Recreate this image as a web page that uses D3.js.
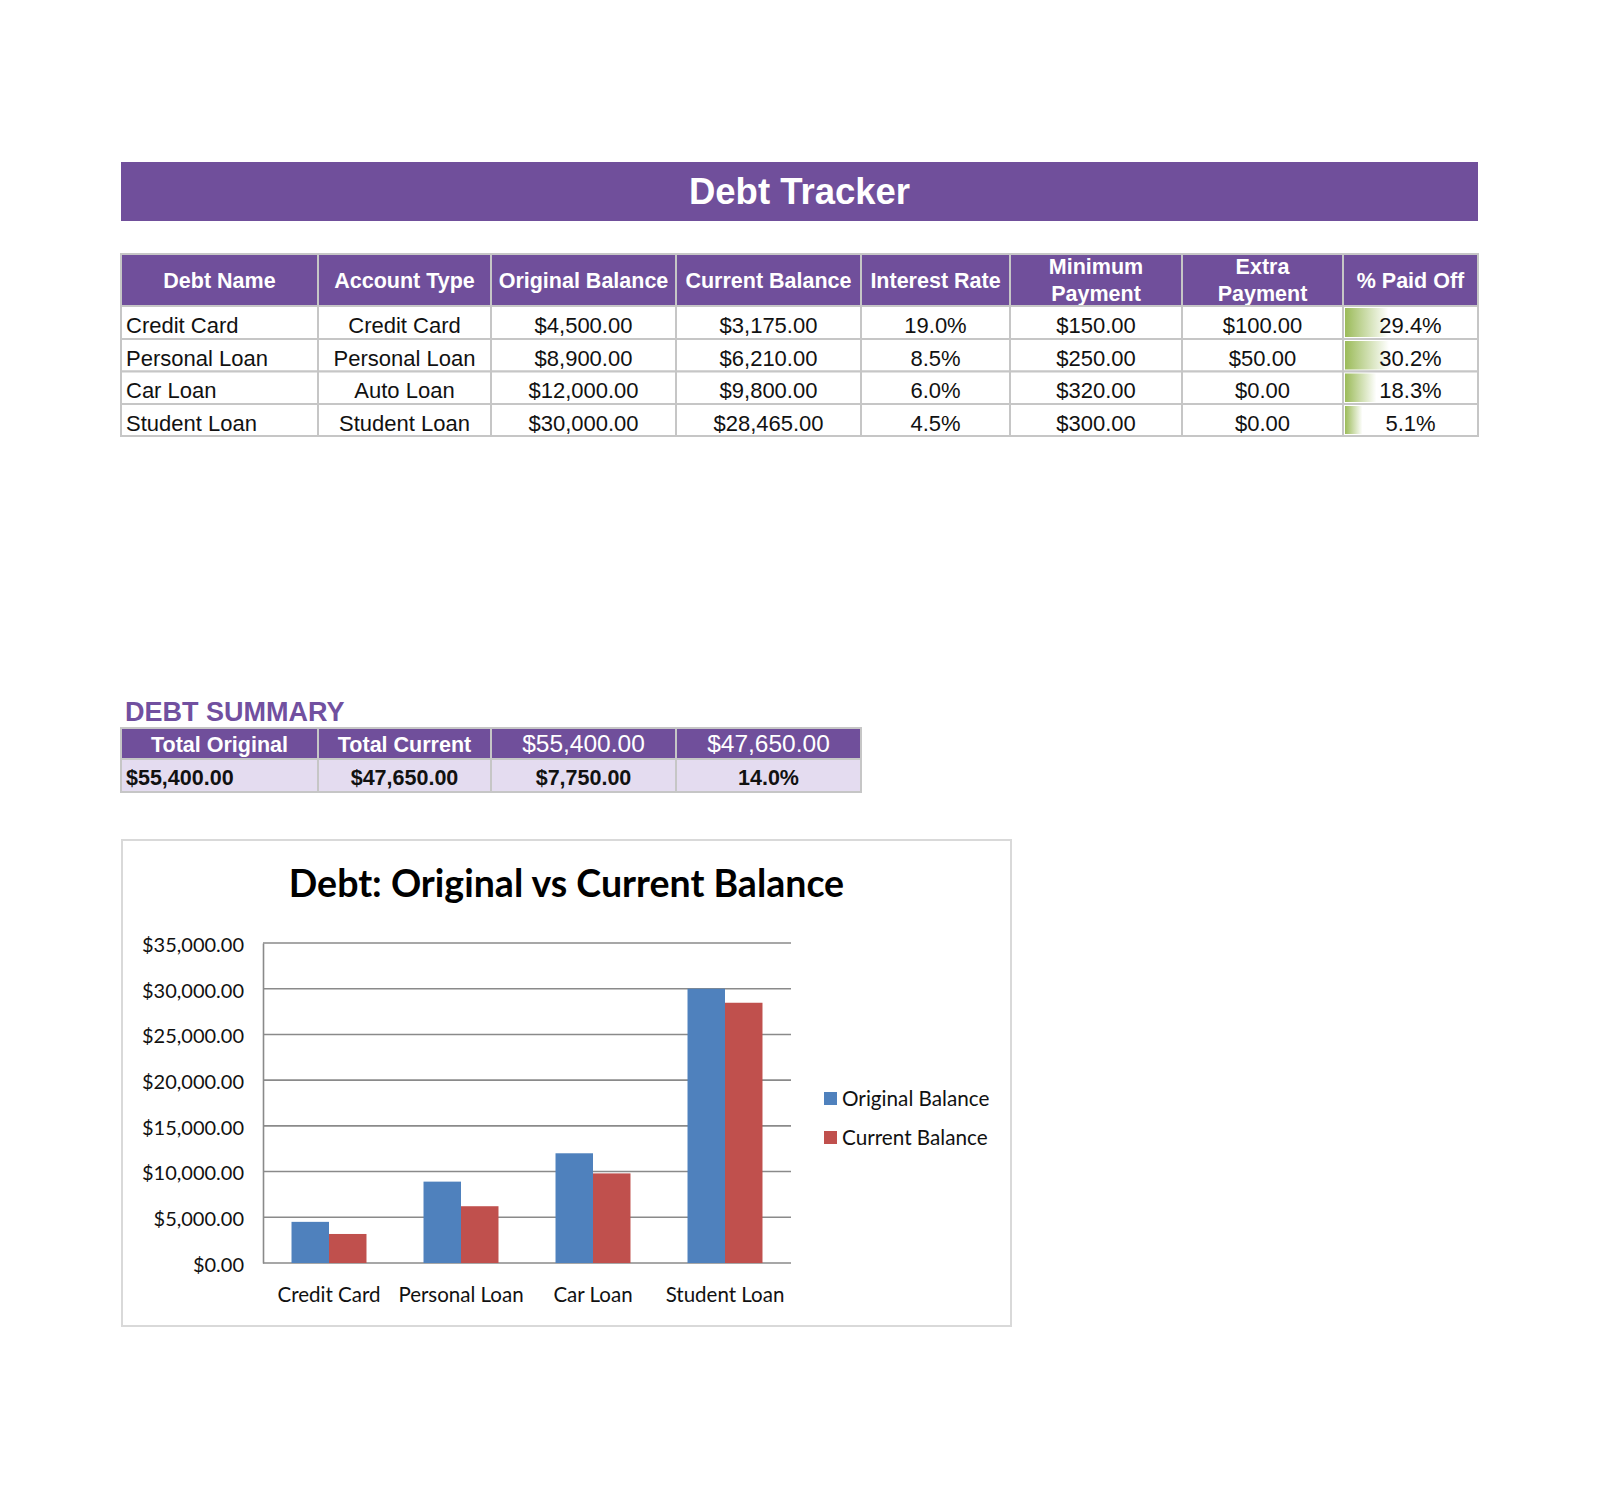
<!DOCTYPE html>
<html>
<head>
<meta charset="utf-8">
<script src="https://cdn.jsdelivr.net/npm/d3@7"></script>
<style>
  html, body { margin: 0; padding: 0; background: #ffffff; }
  svg { display: block; }
</style>
</head>
<body>
<svg id="page" width="1600" height="1502"></svg>
<script>
// ---------------- DATA ----------------
const debtNames = ["Credit Card", "Personal Loan", "Car Loan", "Student Loan"];
const accountTypes = ["Credit Card", "Personal Loan", "Auto Loan", "Student Loan"];
const originalBalance = [4500, 8900, 12000, 30000];
const currentBalance = [3175, 6210, 9800, 28465];
const interestRate = [0.19, 0.085, 0.06, 0.045];
const minimumPayment = [150, 250, 320, 300];
const extraPayment = [100, 50, 0, 0];
const paidOff = [0.294, 0.302, 0.183, 0.051];
const tableHeaders = ["Debt Name", "Account Type", "Original Balance", "Current Balance",
  "Interest Rate", "Minimum\nPayment", "Extra\nPayment", "% Paid Off"];
const summaryHeaders = ["Total Original", "Total Current", "$55,400.00", "$47,650.00"];
const summaryValues = ["$55,400.00", "$47,650.00", "$7,750.00", "14.0%"];
const seriesNames = ["Original Balance", "Current Balance"];
const yTickValues = [0, 5000, 10000, 15000, 20000, 25000, 30000, 35000];
const pageTitle = "Debt Tracker";
const chartTitle = "Debt: Original vs Current Balance";
const summaryTitle = "DEBT SUMMARY";

// ---------------- STYLE / LAYOUT ----------------
const PURPLE = "#704f9b";
const LAVENDER = "#e4dcf0";
const GRID = "#c6c6c6";
const BLUE = "#4f81bd";
const RED = "#c0504d";
const ARIAL = "'Liberation Sans', Arial, sans-serif";
const CAL = "Lato, 'Open Sans', sans-serif";

const colEdges = [121, 318, 491, 676, 861, 1010, 1182, 1343, 1478];
const money = d => "$" + d3.format(",.2f")(d);
const pct = d3.format(".1%");

const svg = d3.select("#page");

// defs: gradient for data bars
const defs = svg.append("defs");
const grad = defs.append("linearGradient").attr("id", "dbar")
  .attr("x1", "0%").attr("x2", "100%").attr("y1", "0%").attr("y2", "0%");
grad.append("stop").attr("offset", "0%").attr("stop-color", "#9bbb59");
grad.append("stop").attr("offset", "100%").attr("stop-color", "#ffffff");

// ---------------- TITLE BANNER ----------------
svg.append("rect").attr("x", 121).attr("y", 162).attr("width", 1478 - 121).attr("height", 59)
  .attr("fill", PURPLE);
svg.append("text").attr("x", (121 + 1478) / 2).attr("y", 204)
  .attr("text-anchor", "middle").attr("fill", "#fff")
  .style("font-family", ARIAL).style("font-weight", "bold").style("font-size", "36.5px")
  .text(pageTitle);

// ---------------- MAIN TABLE ----------------
const headerTop = 254, headerBottom = 306;
const rowEdges = [306, 339, 371.5, 404, 436];

const rows = debtNames.map((n, i) => [
  n, accountTypes[i], money(originalBalance[i]), money(currentBalance[i]),
  pct(interestRate[i]), money(minimumPayment[i]), money(extraPayment[i]), pct(paidOff[i])
]);

const tbl = svg.append("g");
// header cells
tbl.selectAll("rect.h").data(tableHeaders).join("rect").attr("class", "h")
  .attr("x", (d, i) => colEdges[i]).attr("y", headerTop)
  .attr("width", (d, i) => colEdges[i + 1] - colEdges[i]).attr("height", headerBottom - headerTop)
  .attr("fill", PURPLE).attr("stroke", GRID).attr("stroke-width", 2);
tableHeaders.forEach((h, i) => {
  const lines = h.split("\n");
  const cx = (colEdges[i] + colEdges[i + 1]) / 2;
  const cy = (headerTop + headerBottom) / 2;
  const lh = 27;
  lines.forEach((ln, k) => {
    tbl.append("text").attr("x", cx)
      .attr("y", cy + (k - (lines.length - 1) / 2) * lh + 7.6)
      .attr("text-anchor", "middle").attr("fill", "#fff")
      .style("font-family", ARIAL).style("font-weight", "bold").style("font-size", "21.5px")
      .text(ln);
  });
});

// body cells
const barScale = d3.scaleLinear().domain([0, d3.max(paidOff)]).range([12, 44]);
rows.forEach((r, ri) => {
  const y0 = rowEdges[ri], y1 = rowEdges[ri + 1];
  r.forEach((v, ci) => {
    tbl.append("rect").attr("x", colEdges[ci]).attr("y", y0)
      .attr("width", colEdges[ci + 1] - colEdges[ci]).attr("height", y1 - y0)
      .attr("fill", "#fff").attr("stroke", GRID).attr("stroke-width", 2);
  });
});
// data bars
tbl.selectAll("rect.db").data(paidOff).join("rect").attr("class", "db")
  .attr("x", colEdges[7] + 2).attr("y", (d, i) => rowEdges[i] + 2)
  .attr("width", d => barScale(d)).attr("height", (d, i) => rowEdges[i + 1] - rowEdges[i] - 4)
  .attr("fill", "url(#dbar)");
rows.forEach((r, ri) => {
  const cy = (rowEdges[ri] + rowEdges[ri + 1]) / 2;
  r.forEach((v, ci) => {
    const left = ci === 0;
    tbl.append("text")
      .attr("x", left ? colEdges[ci] + 5 : (colEdges[ci] + colEdges[ci + 1]) / 2)
      .attr("y", cy + 10.5)
      .attr("text-anchor", left ? "start" : "middle").attr("fill", "#111")
      .style("font-family", ARIAL).style("font-size", "22px")
      .text(v);
  });
});

// ---------------- SUMMARY ----------------
svg.append("text").attr("x", 125).attr("y", 721)
  .attr("fill", "#7150a0")
  .style("font-family", ARIAL).style("font-weight", "bold").style("font-size", "27px")
  .text(summaryTitle);
const sTop = 728, sMid = 759, sBot = 792;
summaryHeaders.forEach((h, i) => {
  svg.append("rect").attr("x", colEdges[i]).attr("y", sTop)
    .attr("width", colEdges[i + 1] - colEdges[i]).attr("height", sMid - sTop)
    .attr("fill", PURPLE).attr("stroke", GRID).attr("stroke-width", 2);
  svg.append("rect").attr("x", colEdges[i]).attr("y", sMid)
    .attr("width", colEdges[i + 1] - colEdges[i]).attr("height", sBot - sMid)
    .attr("fill", LAVENDER).attr("stroke", GRID).attr("stroke-width", 2);
});
summaryHeaders.forEach((h, i) => {
  svg.append("text").attr("x", (colEdges[i] + colEdges[i + 1]) / 2).attr("y", (sTop + sMid) / 2 + 8)
    .attr("text-anchor", "middle").attr("fill", "#fff")
    .style("font-family", ARIAL).style("font-weight", i < 2 ? "bold" : "normal")
    .style("font-size", i < 2 ? "21.5px" : "24.5px")
    .text(h);
});
summaryValues.forEach((v, i) => {
  const left = i === 0;
  svg.append("text")
    .attr("x", left ? colEdges[i] + 5 : (colEdges[i] + colEdges[i + 1]) / 2)
    .attr("y", (sMid + sBot) / 2 + 9.5)
    .attr("text-anchor", left ? "start" : "middle").attr("fill", "#111")
    .style("font-family", ARIAL).style("font-weight", "bold").style("font-size", "21.5px")
    .text(v);
});

// ---------------- CHART ----------------
svg.append("rect").attr("x", 122).attr("y", 840).attr("width", 1011 - 122).attr("height", 1326 - 840)
  .attr("fill", "#fff").attr("stroke", "#d9d9d9").attr("stroke-width", 2);
svg.append("text").attr("x", (122 + 1011) / 2).attr("y", 897)
  .attr("text-anchor", "middle").attr("fill", "#000")
  .style("font-family", CAL).style("font-weight", "bold").style("font-size", "37.5px")
  .text(chartTitle);

const plot = { left: 263, right: 791, top: 943, bottom: 1263 };
const y = d3.scaleLinear().domain([0, 35000]).range([plot.bottom, plot.top]);
const x = d3.scaleBand().domain(debtNames).range([plot.left, plot.right])
  .paddingInner(0.432).paddingOuter(0.216);
const xs = d3.scaleBand().domain(seriesNames).range([0, x.bandwidth()]);
const color = d3.scaleOrdinal().domain(seriesNames).range([BLUE, RED]);

// grid lines
svg.append("g").selectAll("line").data(yTickValues).join("line")
  .attr("x1", plot.left).attr("x2", plot.right)
  .attr("y1", d => y(d)).attr("y2", d => y(d))
  .attr("stroke", "#8a8a8a").attr("stroke-width", 1.6);

// y axis labels
const yAxis = d3.axisLeft(y).tickValues(yTickValues).tickSize(0).tickPadding(19)
  .tickFormat(d => money(d));
const ya = svg.append("g").attr("transform", `translate(${plot.left},0)`).call(yAxis);
ya.select(".domain").attr("stroke", "#8a8a8a").attr("stroke-width", 1.6);
ya.selectAll("text").style("font-family", CAL).style("font-size", "20px").attr("fill", "#111")
  .attr("dy", "0.42em");

// bars
const series = [originalBalance, currentBalance];
const groups = svg.append("g").selectAll("g").data(debtNames).join("g")
  .attr("transform", d => `translate(${x(d)},0)`);
groups.selectAll("rect").data((d, i) => seriesNames.map((s, k) => ({ s, v: series[k][i] })))
  .join("rect")
  .attr("x", d => xs(d.s)).attr("width", xs.bandwidth())
  .attr("y", d => y(d.v)).attr("height", d => y(0) - y(d.v))
  .attr("fill", d => color(d.s));

// x axis labels
const xAxis = d3.axisBottom(x).tickSize(0).tickPadding(24);
const xa = svg.append("g").attr("transform", `translate(0,${plot.bottom})`).call(xAxis);
xa.select(".domain").remove();
xa.selectAll("text").style("font-family", CAL).style("font-size", "20.5px").attr("fill", "#111");

// legend
const lg = svg.append("g").selectAll("g").data(seriesNames).join("g")
  .attr("transform", (d, i) => `translate(824,${1092 + i * 39})`);
lg.append("rect").attr("width", 13).attr("height", 13).attr("fill", d => color(d));
lg.append("text").attr("x", 18).attr("y", 14)
  .style("font-family", CAL).style("font-size", "20.7px").attr("fill", "#111")
  .text(d => d);
</script>
</body>
</html>
